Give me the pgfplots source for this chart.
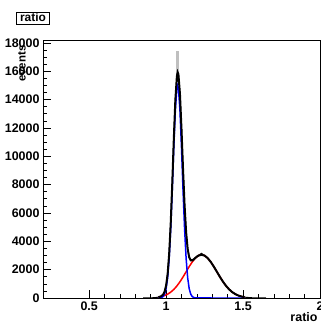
\documentclass[border=0pt]{standalone}
\usepackage{fontspec}
\setmainfont{Liberation Sans}
\usepackage{pgfplots}
\pgfplotsset{compat=1.18}
\begin{document}
\begin{tikzpicture}[x=1bp,y=1bp]
\begin{axis}[
  at={(43bp,25bp)}, anchor=south west,
  scale only axis, width=277bp, height=258bp,
  xmin=0.2, xmax=2.0, ymin=0, ymax=18200,
  xtick={0.5,1,1.5,2}, xticklabels={0.5,1,1.5,2},
  ytick={0,2000,4000,6000,8000,10000,12000,14000,16000,18000},
  minor x tick num=4, minor y tick num=3,
  tick pos=left, tick align=inside,
  major tick length=8bp, minor tick length=4bp,
  scaled y ticks=false,
  /pgf/number format/assume math mode=true,
  /pgf/number format/1000 sep={},
  tick label style={font=\fontsize{12.5}{14}\selectfont\bfseries, text=black},
  every tick/.style={black, line width=0.6pt},
  axis line style={line width=0.6pt},
  clip=true,
]
% data histogram
\addplot[black, line width=1pt] coordinates {
(0.85,0) (0.90,10) (0.93,30) (0.95,62) (0.96,90) (0.97,137) (0.98,234) (0.99,443)
(1.00,876) (1.01,1705) (1.02,3132) (1.03,5283) (1.04,8092) (1.05,11204)
(1.06,13959) (1.07,15638) (1.075,16100) (1.08,15780) (1.09,14384) (1.10,11910)
(1.11,9074) (1.12,6535) (1.13,4646) (1.14,3468) (1.15,2874) (1.16,2700)
(1.17,2700) (1.18,2760) (1.19,2850) (1.20,2940) (1.21,3010) (1.23,3150)
(1.25,3000) (1.27,2815) (1.29,2547) (1.31,2215) (1.33,1850) (1.35,1484)
(1.37,1144) (1.39,848) (1.41,604) (1.43,413) (1.45,271) (1.47,171)
(1.49,104) (1.51,60) (1.55,20) (1.60,5) (1.65,0)
};
% peak error bar
\addplot[gray!50, line width=2.5pt] coordinates {(1.075,15900) (1.075,17400)};
% broad component
\addplot[red, line width=1.5pt] coordinates {
(0.95,60) (0.97,104) (0.99,171) (1.01,271) (1.03,413) (1.05,604) (1.07,848)
(1.09,1144) (1.11,1484) (1.13,1850) (1.15,2215) (1.17,2547) (1.19,2815)
(1.21,2990) (1.23,3050) (1.25,2990) (1.27,2815) (1.29,2547) (1.31,2215)
(1.33,1850) (1.35,1484) (1.37,1144) (1.39,848) (1.41,604) (1.43,413)
(1.45,271) (1.47,171) (1.49,104) (1.51,60)
};
% narrow component
\addplot[blue, line width=1.5pt] coordinates {
(0.95,3) (0.96,10) (0.97,33) (0.98,100) (0.99,272) (1.00,659) (1.01,1434)
(1.02,2796) (1.03,4870) (1.04,7590) (1.05,10600) (1.06,13240) (1.07,14790)
(1.075,15000) (1.08,14790) (1.09,13240) (1.10,10600) (1.11,7590) (1.12,4870)
(1.13,2796) (1.14,1434) (1.15,659) (1.16,272) (1.17,100) (1.18,33) (1.19,10)
(1.20,3) (1.30,0) (1.51,0)
};
% total fit
\addplot[black, line width=2pt] coordinates {
(0.95,62) (0.96,90) (0.97,137) (0.98,234) (0.99,443) (1.00,876) (1.01,1705)
(1.02,3132) (1.03,5283) (1.04,8092) (1.05,11204) (1.06,13959) (1.07,15638)
(1.075,15918) (1.08,15780) (1.09,14384) (1.10,11910) (1.11,9074) (1.12,6535)
(1.13,4646) (1.14,3468) (1.15,2874) (1.16,2659) (1.17,2647) (1.18,2725)
(1.19,2825) (1.20,2918) (1.21,2990) (1.23,3050) (1.25,2990) (1.27,2815)
(1.29,2547) (1.31,2215) (1.33,1850) (1.35,1484) (1.37,1144) (1.39,848)
(1.41,604) (1.43,413) (1.45,271) (1.47,171) (1.49,104) (1.51,60)
};
\end{axis}
\node[rotate=90, anchor=east, font=\fontsize{11.5}{13}\selectfont\bfseries] at (22,281) {events};
\node[anchor=east, font=\fontsize{12.5}{14}\selectfont\bfseries] at (321,6) {ratio};
\node[draw=black, line width=0.8pt, inner xsep=3.5bp, inner ysep=2bp, font=\fontsize{12}{13}\selectfont\bfseries, text height=7bp, text depth=1bp] at (33,305) {ratio};
\pgfresetboundingbox
\useasboundingbox (0,0) rectangle (321,323);
\end{tikzpicture}
\end{document}
